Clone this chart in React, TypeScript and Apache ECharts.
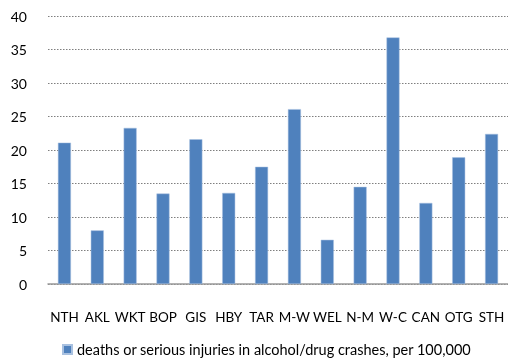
import React, { useEffect, useRef } from "react";
import * as echarts from "echarts";

const categories = ["NTH", "AKL", "WKT", "BOP", "GIS", "HBY", "TAR", "M-W", "WEL", "N-M", "W-C", "CAN", "OTG", "STH"];
const values = [21.1, 8.0, 23.3, 13.5, 21.6, 13.6, 17.5, 26.1, 6.6, 14.5, 36.8, 12.1, 18.9, 22.4];
const seriesName = "deaths or serious injuries in alcohol/drug crashes, per 100,000";
const yTicks = { min: 0, max: 40, interval: 5 };

export default function App() {
  const ref = useRef<HTMLDivElement>(null);
  useEffect(() => {
    if (!ref.current) return;
    const chart = echarts.init(ref.current, undefined, { renderer: "svg" });
    const font = "Lato, 'Open Sans', sans-serif";
    chart.setOption({
      animation: false,
      textStyle: { fontFamily: font },
      grid: { left: 48, right: 0, top: 16, bottom: 74, containLabel: false },
      legend: {
        top: 342,
        left: 62,
        padding: 0,
        data: [seriesName],
        icon: "rect",
        itemWidth: 9,
        itemHeight: 9,
        itemGap: 4,
        textStyle: { fontFamily: font, fontSize: 14.5, lineHeight: 15, color: "#000" },
      },
      xAxis: {
        type: "category",
        data: categories,
        axisLine: { lineStyle: { color: "#999", width: 1.5 } },
        axisTick: { show: false },
        axisLabel: { color: "#000", fontSize: 13.5, fontFamily: font, margin: 26, interval: 0 },
      },
      yAxis: {
        type: "value",
        min: yTicks.min,
        max: yTicks.max,
        interval: yTicks.interval,
        axisLine: { show: false },
        axisTick: { show: false },
        axisLabel: { color: "#000", fontSize: 14, fontFamily: font, margin: 21 },
        splitLine: { lineStyle: { color: "#7f7f7f", type: [1.5, 1.5], width: 1.2 } },
      },
      series: [
        {
          name: seriesName,
          type: "bar",
          data: values,
          barWidth: 13,
          itemStyle: { color: "#4F81BD", borderColor: "#a9c1e0", borderWidth: 0.5 },
        },
      ],
    });
    return () => chart.dispose();
  }, []);
  return <div ref={ref} style={{ position: "fixed", left: 0, top: 0, width: 508, height: 358 }} />;
}
